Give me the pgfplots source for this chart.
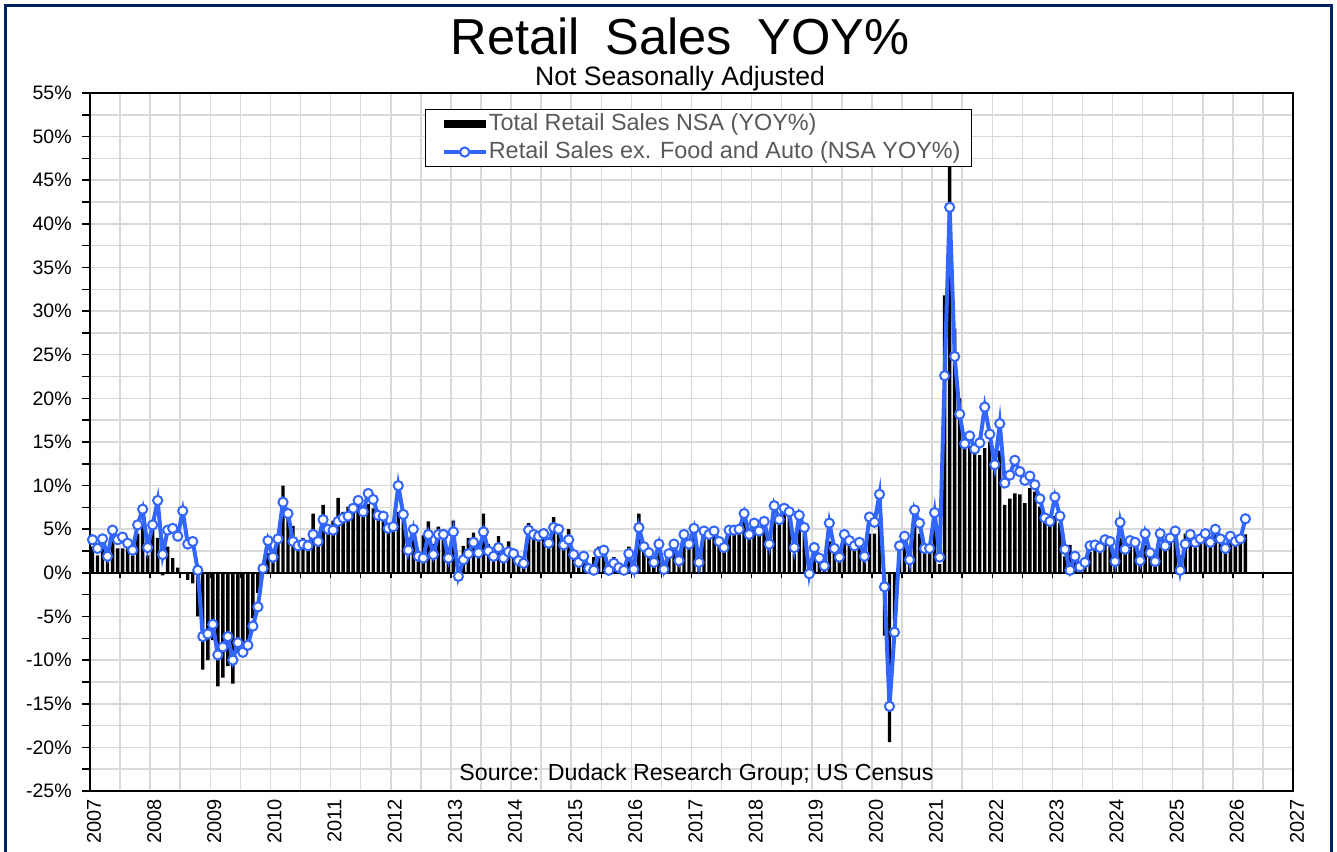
\documentclass[border=0pt]{standalone}
\usepackage{pgfplots}
\usepackage{pgfplotstable}
\usepackage{fontspec}
\setmainfont{Liberation Sans}
\pgfplotsset{compat=1.18}
\definecolor{navyframe}{RGB}{0,32,96}
\definecolor{lineblue}{RGB}{51,102,255}
\definecolor{gridgray}{RGB}{217,217,217}
\definecolor{legtext}{RGB}{89,89,89}

\pgfplotstableread{
m bar line
0 3.0 3.8
1 2.0 2.8
2 3.0 3.9
3 2.6 1.9
4 4.8 4.9
5 2.8 3.8
6 2.8 4.1
7 2.8 3.4
8 2.0 2.6
9 4.5 5.5
10 5.5 7.3
11 2.0 2.9
12 5.0 5.5
13 4.0 8.3
14 -0.3 2.1
15 3.0 4.9
16 1.7 5.1
17 0.6 4.2
18 -0.1 7.1
19 -0.8 3.3
20 -1.2 3.6
21 -5.0 0.3
22 -11.1 -7.3
23 -10.0 -7.0
24 -7.7 -5.9
25 -13.0 -9.4
26 -12.0 -8.5
27 -10.7 -7.3
28 -12.7 -10.0
29 -9.2 -8.0
30 -8.4 -9.1
31 -7.7 -8.3
32 -5.2 -6.1
33 -2.3 -3.9
34 0.2 0.5
35 2.3 3.7
36 2.4 1.8
37 3.8 3.9
38 10.0 8.1
39 6.5 6.8
40 5.4 3.6
41 3.5 3.1
42 4.0 3.3
43 3.6 3.1
44 6.8 4.4
45 4.0 3.6
46 7.8 6.1
47 5.3 5.0
48 6.0 4.9
49 8.6 5.9
50 7.0 6.3
51 7.6 6.5
52 7.2 7.4
53 7.8 8.3
54 6.8 7.0
55 7.9 9.1
56 7.4 8.4
57 6.6 6.6
58 6.0 6.5
59 5.5 5.1
60 5.6 5.3
61 7.0 10.0
62 6.8 6.7
63 4.0 2.6
64 5.3 5.0
65 2.5 1.9
66 4.3 1.7
67 5.9 4.4
68 3.3 2.1
69 5.3 4.4
70 5.0 4.4
71 2.8 1.7
72 6.0 4.7
73 0.8 -0.4
74 3.1 1.5
75 4.0 2.2
76 4.6 3.5
77 3.5 2.3
78 6.8 4.7
79 3.3 2.5
80 2.5 1.9
81 4.2 2.9
82 2.6 1.7
83 3.6 2.4
84 2.6 2.2
85 1.8 1.4
86 1.0 1.1
87 5.7 4.9
88 4.3 4.4
89 4.5 4.2
90 4.6 4.5
91 3.8 3.4
92 6.4 5.2
93 5.5 5.0
94 3.5 3.2
95 5.0 3.8
96 2.3 2.1
97 1.3 1.2
98 2.0 1.9
99 0.8 0.5
100 1.8 0.3
101 3.0 2.3
102 3.1 2.6
103 1.3 0.3
104 1.8 1.1
105 1.2 0.6
106 0.8 0.3
107 3.0 2.2
108 0.6 0.4
109 6.8 5.2
110 3.3 3.0
111 2.9 2.3
112 1.3 1.2
113 3.5 3.3
114 1.0 0.4
115 2.5 2.2
116 3.8 3.3
117 1.6 1.4
118 4.3 4.4
119 3.0 3.3
120 5.0 5.1
121 1.8 1.2
122 5.0 4.8
123 4.4 4.4
124 4.7 4.8
125 3.8 3.6
126 3.2 2.9
127 4.9 4.9
128 5.2 4.9
129 5.2 5.0
130 6.2 6.8
131 4.4 4.4
132 5.0 5.7
133 4.7 4.8
134 5.6 5.9
135 3.5 3.3
136 6.5 7.7
137 5.7 6.1
138 7.2 7.4
139 6.7 7.0
140 2.2 2.9
141 6.5 6.6
142 4.5 5.2
143 1.0 -0.1
144 2.8 2.9
145 1.8 1.7
146 1.5 0.8
147 3.6 5.7
148 3.0 2.8
149 2.0 1.8
150 3.5 4.4
151 3.8 3.7
152 3.0 3.1
153 3.5 3.5
154 2.5 1.9
155 4.5 6.4
156 4.5 5.8
157 5.5 9.0
158 -7.2 -1.6
159 -19.4 -15.3
160 -5.5 -6.8
161 2.5 3.1
162 3.5 4.2
163 2.0 1.5
164 6.0 7.2
165 4.5 5.7
166 3.0 2.8
167 3.0 2.8
168 7.0 6.9
169 1.0 1.8
170 31.8 22.6
171 51.0 41.9
172 28.0 24.8
173 20.0 18.2
174 14.7 14.8
175 14.5 15.7
176 13.8 14.2
177 13.5 14.9
178 14.3 19.0
179 15.0 15.9
180 12.0 12.4
181 14.0 17.1
182 7.8 10.3
183 8.5 11.2
184 9.1 12.9
185 9.0 11.6
186 8.0 10.6
187 9.7 11.1
188 9.3 10.1
189 7.6 8.5
190 6.6 6.3
191 5.7 5.9
192 6.5 8.7
193 5.7 6.5
194 1.9 2.7
195 3.2 0.3
196 2.0 1.9
197 1.0 0.7
198 1.8 1.2
199 2.4 3.1
200 3.0 3.2
201 3.6 2.9
202 3.2 3.8
203 3.3 3.6
204 2.0 1.3
205 4.0 5.8
206 2.5 2.7
207 3.0 3.7
208 3.0 3.5
209 1.8 1.4
210 3.2 4.5
211 2.5 2.3
212 1.0 1.3
213 3.0 4.5
214 3.5 3.1
215 3.6 4.0
216 4.0 4.8
217 2.0 0.3
218 4.5 3.3
219 4.7 4.4
220 3.3 3.5
221 3.8 3.9
222 4.0 4.5
223 3.5 3.5
224 5.3 5.0
225 3.8 3.9
226 3.0 2.8
227 4.0 4.2
228 4.0 3.6
229 3.9 3.9
230 4.4 6.2
}\datatable

\begin{document}
\begin{tikzpicture}[x=0.5pt,y=0.5pt]
\useasboundingbox (0,0) rectangle (1337,851);
\begin{axis}[
  at={(45pt,30pt)}, anchor=south west, scale only axis,
  width=601.5pt, height=349pt,
  xmin=-0.5, xmax=239.5, ymin=-25, ymax=55,
  xtick={-0.5,5.5,...,239.5},
  xticklabels={2007,{},2008,{},2009,{},2010,{},2011,{},2012,{},2013,{},2014,{},2015,{},2016,{},2017,{},2018,{},2019,{},2020,{},2021,{},2022,{},2023,{},2024,{},2025,{},2026,{},2027},
  xtick style={draw=none},
  ytick={-25,-20,...,55},
  yticklabels={-25\%,-20\%,-15\%,-10\%,-5\%,0\%,5\%,10\%,15\%,20\%,25\%,30\%,35\%,40\%,45\%,50\%,55\%},
  minor ytick={-22.5,-17.5,...,52.5},
  grid=both,
  major grid style={gridgray, line width=0.75pt},
  minor grid style={gridgray, line width=0.75pt},
  axis line style={black, line width=1pt},
  tick align=outside,
  ytick pos=left, xtick pos=bottom,
  major tick length=4pt, minor tick length=4pt,
  ytick style={black, line width=0.75pt},
  yticklabel style={font=\fontsize{9.75}{10}\selectfont, inner xsep=0pt, anchor=east, xshift=-5pt},
  xticklabel style={font=\fontsize{10}{10}\selectfont, rotate=90, anchor=east, inner sep=0pt, yshift=-2pt},
  legend style={at={(0.2785,0.977)}, anchor=north west, draw=black, line width=0.6pt, fill=white,
    font=\fontsize{11.7}{12}\selectfont, text=legtext, inner xsep=5pt, inner ysep=1.2pt, row sep=1.4pt,
    nodes={inner xsep=0.6pt, inner ysep=0pt, text height=9.4pt, text depth=3pt}},
  legend cell align=left,
]
\addplot[ybar, bar width=0.68, fill=black, draw=none,
  legend image code/.code={\path (0pt,0pt); \fill[black] (3pt,-2pt) rectangle (24pt,2pt);}]
  table[x=m, y=bar] {\datatable};
\addlegendentry{Total Retail Sales NSA (YOY\%)}
\draw[black, line width=1pt] (axis cs:-0.5,0) -- (axis cs:239.5,0);
\pgfplotsinvokeforeach{-0.5,5.5,...,239.5}{\draw[black, line width=0.75pt] (axis cs:#1,0) -- ++(0pt,-2.5pt);}
\addplot[color=lineblue, line width=2pt, mark=*, mark size=2.3pt,
  mark options={fill=white, draw=lineblue, line width=1pt, solid},
  legend image code/.code={\path (0pt,0pt); \draw[lineblue, line width=2pt] (3pt,0pt) -- (24pt,0pt);
    \draw[lineblue, fill=white, line width=1pt] (13.5pt,0pt) circle (2.3pt);}]
  table[x=m, y=line] {\datatable};
\addlegendentry{Retail Sales ex. Food and Auto (NSA YOY\%)}
\end{axis}
\node[anchor=base, inner sep=0pt, font=\fontsize{25.3}{28}\selectfont] at (680,796) {Retail\hspace{0.5em}Sales\hspace{0.5em}YOY\%};
\node[anchor=base, inner sep=0pt, font=\fontsize{13.3}{15}\selectfont] at (680,765) {Not Seasonally Adjusted};
\node[anchor=base, inner sep=0pt, font=\fontsize{11.6}{13}\selectfont] at (696.5,71) {Source: Dudack Research Group; US Census};
\draw[navyframe, line width=1.75pt] (5.5,-10) -- (5.5,845.5) -- (1331.5,845.5) -- (1331.5,-10);
\end{tikzpicture}
\end{document}
